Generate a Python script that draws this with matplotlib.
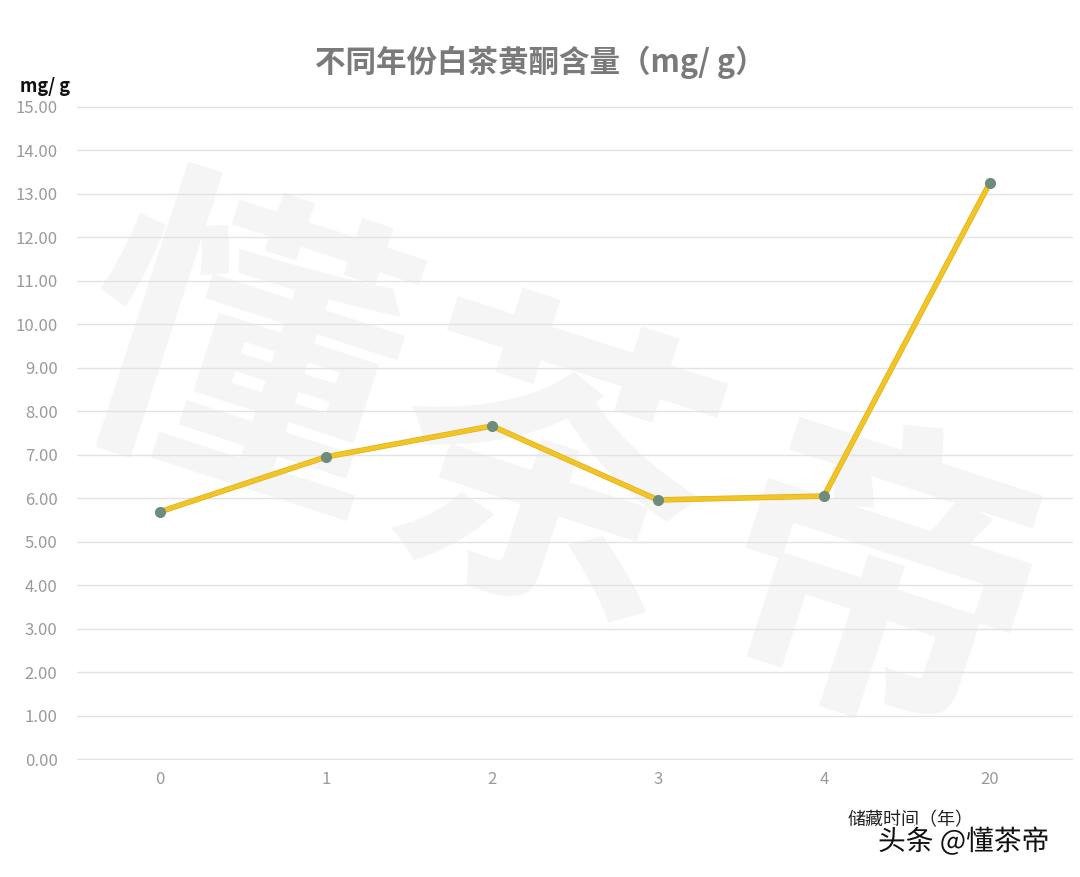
import matplotlib
matplotlib.use("Agg")
import matplotlib.pyplot as plt
import matplotlib.patheffects as pe

plt.rcParams['font.family'] = ['Noto Sans CJK SC', 'DejaVu Sans']

years = ["0", "1", "2", "3", "4", "20"]
flavone = [5.69, 6.95, 7.66, 5.96, 6.05, 13.26]
yticks = [0, 1, 2, 3, 4, 5, 6, 7, 8, 9, 10, 11, 12, 13, 14, 15]

fig = plt.figure(figsize=(10.8, 8.77), dpi=100)
ax = fig.add_axes([77 / 1080, 1 - 760 / 877, 996 / 1080, 654 / 877])

x = list(range(len(years)))

# faint background watermark
for ch, cx, cy in [("懂", 0.16, 0.60), ("茶", 0.47, 0.42), ("帝", 0.80, 0.24)]:
    ax.text(cx, cy, ch, transform=ax.transAxes, fontsize=230, fontweight="bold",
            color="#f5f5f5", rotation=-18, ha="center", va="center", zorder=0)

ax.plot(x, flavone, color="#f3c524", lw=3, zorder=3,
        path_effects=[pe.Stroke(linewidth=4, foreground="#dcb01c"), pe.Normal()])
ax.plot(x, flavone, ls="none", marker="o", ms=7, mfc="#6e8c7c", mec="#6e8c7c", zorder=4)

ax.set_xlim(-0.5, len(years) - 0.5)
ax.set_ylim(-0.02, 15.02)
ax.set_xticks(x)
ax.set_xticklabels(years)
ax.set_yticks(yticks)
ax.set_yticklabels([f"{v:.2f}" for v in yticks])
ax.tick_params(length=0, labelsize=12, colors="#9a9a9a", pad=8)
ax.tick_params(axis="y", pad=14)
for lab in ax.get_xticklabels() + ax.get_yticklabels():
    lab.set_fontweight("light")
ax.grid(axis="y", color="#e3e3e3", lw=1)
ax.set_axisbelow(True)
for s in ax.spines.values():
    s.set_visible(False)

fig.text(0.5, 1 - 62 / 877, "不同年份白茶黄酮含量（mg/ g）", ha="center", va="center",
         fontsize=22, fontweight="bold", color="#7a7a7a")
fig.text(20 / 1080, 1 - 86 / 877, "mg/ g", ha="left", va="center",
         fontsize=13, fontweight="bold", color="#111111")
fig.text(848 / 1080, 1 - 820 / 877, "储藏时间（年）", ha="left", va="center",
         fontsize=13, color="#222222")
fig.text(878 / 1080, 1 - 842 / 877, "头条 @懂茶帝", ha="left", va="center",
         fontsize=20, color="#111111",
         path_effects=[pe.withStroke(linewidth=3, foreground="white")])

fig.savefig("out.png", dpi=100, facecolor="white")
